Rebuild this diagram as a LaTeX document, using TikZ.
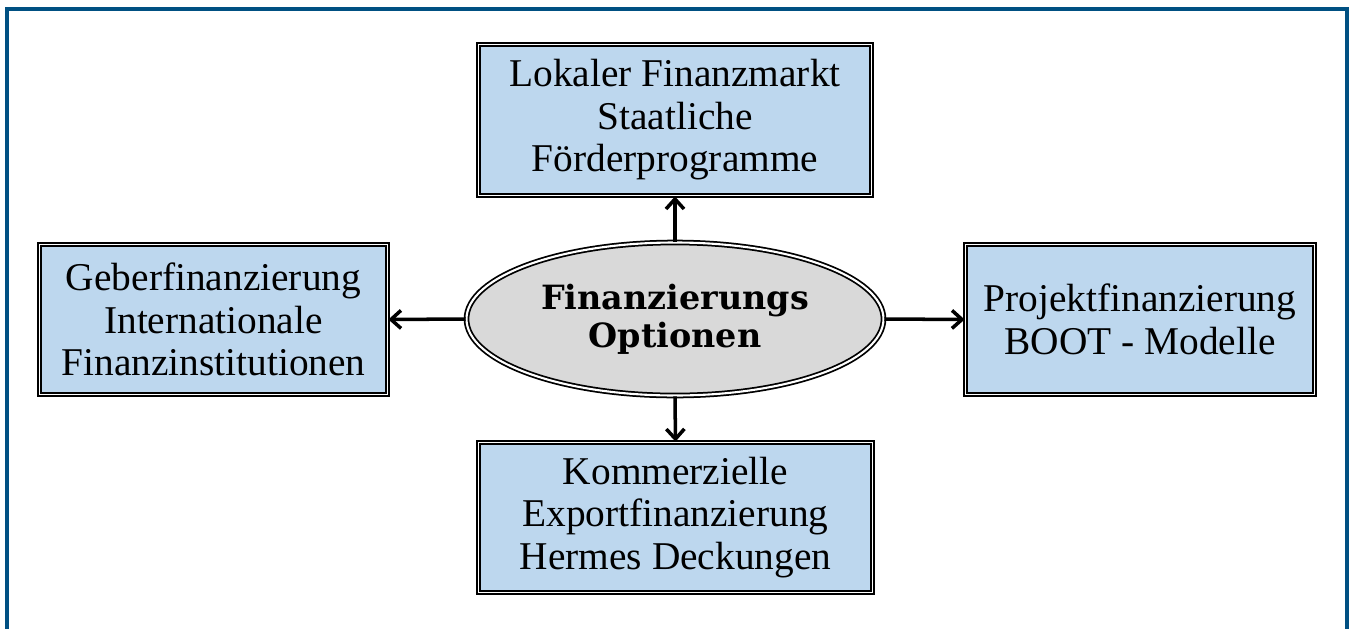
\documentclass[tikz,border=0pt]{standalone}
\usepackage{fontspec}
\setmainfont{Liberation Serif}
\newfontfamily\ovalfont{DejaVu Serif}
\usepackage{xcolor}
\usetikzlibrary{shapes.geometric,arrows.meta,positioning}

\definecolor{framecol}{RGB}{0,80,130}
\definecolor{boxblue}{HTML}{BDD7EE}
\definecolor{ovalgray}{HTML}{D9D9D9}

\tikzset{
  optbox/.style={rectangle, draw=black, line width=0.5pt, double=white,
    double distance=0.5pt, fill=boxblue, align=center, inner sep=0pt,
    font=\fontsize{11.2}{12.1}\selectfont},
  centeroval/.style={ellipse, draw=black, line width=0.5pt, double=white,
    double distance=0.6pt, fill=ovalgray, align=center, inner sep=0pt,
    minimum width=4.17cm, minimum height=1.53cm,
    font=\ovalfont\bfseries\fontsize{9.5}{10.8}\selectfont}
}

\begin{document}
\begin{tikzpicture}[>={Straight Barb[length=1mm,width=1.8mm]}, line width=1pt]
    \useasboundingbox (0,0) rectangle (13.5,-6.29);

    % Draw outer frame (open at the bottom)
    \draw[framecol, line width=0.9pt] (0.07,-6.29) -- (0.07,-0.09) -- (13.47,-0.09) -- (13.47,-6.29);

    % Draw central ellipse
    \node[centeroval] (opt) at (6.75,-3.19) {Finanzierungs\\Optionen};

    % Draw option boxes
    \node[optbox, minimum width=3.93cm, minimum height=1.51cm] (local) at (6.75,-1.20)
        {Lokaler Finanzmarkt\\Staatliche\\Förderprogramme};
    \node[optbox, minimum width=3.48cm, minimum height=1.50cm] (donor) at (2.135,-3.195)
        {Geberfinanzierung\\Internationale\\Finanzinstitutionen};
    \node[optbox, minimum width=3.49cm, minimum height=1.50cm] (project) at (11.40,-3.195)
        {Projektfinanzierung\\BOOT - Modelle};
    \node[optbox, minimum width=3.94cm, minimum height=1.50cm] (export) at (6.755,-5.175)
        {Kommerzielle\\Exportfinanzierung\\Hermes Deckungen};

    % Draw arrows
    \draw[->] (opt.north) -- (local.south);
    \draw[->] (opt.west) -- (donor.east);
    \draw[->] (opt.east) -- (project.west);
    \draw[->] (opt.south) -- (export.north);
\end{tikzpicture}
\end{document}
